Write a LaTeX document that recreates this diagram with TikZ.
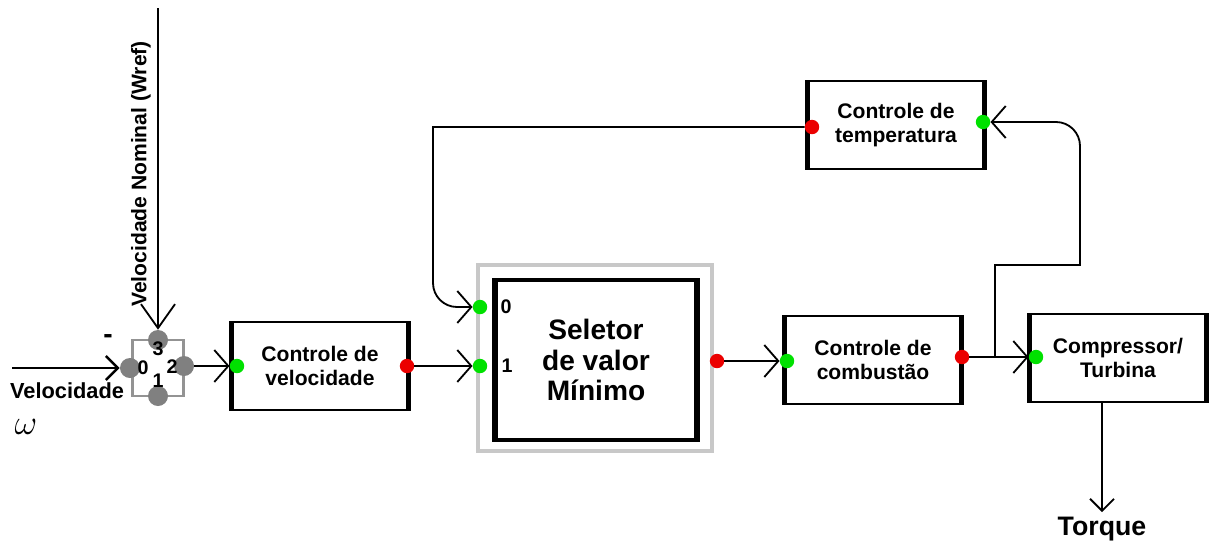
\documentclass[tikz,border=0pt]{standalone}
\usepackage{fontspec}
\setmainfont{Liberation Sans}
\usetikzlibrary{arrows.meta}

\definecolor{portgreen}{RGB}{0,225,0}
\definecolor{portred}{RGB}{235,0,0}
\definecolor{knobgray}{RGB}{128,128,128}
\definecolor{framegray}{RGB}{200,200,200}

\begin{document}
\begin{tikzpicture}[x=0.025cm, y=-0.025cm,
    block/.style={draw, line width=1.3pt, fill=white, minimum width=4.4cm, minimum height=2.2cm,
      align=center, font=\fontsize{15}{16.5}\selectfont\bfseries},
    port/.style={circle, fill=#1, inner sep=0pt, minimum size=3.6mm},
    knob/.style={circle, fill=knobgray, inner sep=0pt, minimum size=5mm},
    pinlabel/.style={font=\fontsize{14}{14}\selectfont\bfseries, inner sep=0pt},
    flow/.style={line width=1.3pt, -{Straight Barb[length=3.5mm, width=8mm, line width=1.3pt]}},
    ]
\useasboundingbox (0,0) rectangle (1209,547);

% summing junction
\node[draw=knobgray!85, line width=2pt, minimum width=1.275cm, minimum height=1.4cm] (sum) at (158,368) {};
\node[knob] (s0) at (130,368) {};
\node[knob] (s1) at (158,396) {};
\node[knob] (s2) at (184,366) {};
\node[knob] (s3) at (158,340) {};
\node[pinlabel] (n0) at (143,368) {0};
\node[pinlabel] (n1) at (158,381) {1};
\node[pinlabel] (n2) at (172,367) {2};
\node[pinlabel] (n3) at (158,349) {3};
\node[font=\fontsize{20}{20}\selectfont\bfseries] (minus) at (108,339) {-};

\coordinate (win) at (12,368);
\coordinate (wref) at (158,8);
\draw[line width=2pt, -{Straight Barb[length=3mm, width=6mm, line width=1.8pt]}] (win) -- (s0);
\draw[line width=1.3pt, -{Straight Barb[length=6mm, width=8.5mm, line width=1.3pt]}] (wref) -- (s3);
\node[font=\fontsize{15.5}{15.5}\selectfont\bfseries] (vel) at (67,391) {Velocidade};
\node[font=\fontsize{26}{26}\selectfont] (omega) at (26,427) {$\omega$};
\node[rotate=90, font=\fontsize{15}{15}\selectfont\bfseries] (wreflabel) at (141,174) {Velocidade Nominal (Wref)};

% blocks
\node[block] (vc) at (320,366) {Controle de\\velocidade};
\node[draw=framegray, line width=3pt, minimum width=5.85cm, minimum height=4.65cm] (selframe) at (595,358) {};
\node[block, line width=2.5pt, minimum width=5.0cm, minimum height=4cm,
  font=\fontsize{20}{22}\selectfont\bfseries] (sel) at (596,360) {Seletor\\de valor\\Mínimo};
\node[block] (cc) at (873,360) {Controle de\\combustão};
\node[block] (comp) at (1118,358) {Compressor/\\Turbina};
\node[block] (tc) at (896,125) {Controle de\\temperatura};

% thick side bars
\foreach \b in {vc, sel, cc, comp, tc}
  \draw[line width=3.5pt] (\b.north west) -- (\b.south west)
                          (\b.north east) -- (\b.south east);

% ports
\node[port=portgreen] (v_in) at (237,366) {};
\node[port=portred] (v_out) at (407,366) {};
\node[port=portgreen] (sel_a) at (480,307) {};
\node[port=portgreen] (sel_b) at (480,366) {};
\node[port=portred] (sel_out) at (717,361) {};
\node[port=portgreen] (c_in) at (787,361) {};
\node[port=portred] (c_out) at (962,357) {};
\node[port=portgreen] (p_in) at (1036,357) {};
\node[port=portred] (t_out) at (812,127) {};
\node[port=portgreen] (t_in) at (983,122) {};
\node[pinlabel] (l0) at (506,307) {0};
\node[pinlabel] (l1) at (507,366) {1};

% connections
\draw[flow] (s2) -- (v_in);
\draw[flow] (v_out) -- (sel_b);
\draw[flow] (sel_out) -- (c_in);
\draw[flow] (c_out) -- (p_in);

\coordinate (tap) at (995,357);
\coordinate (rr) at (1080,265);
\coordinate (fb) at (433,127);
\draw[flow] (tap) |- (rr) [rounded corners=6mm] |- (t_in);
\draw[flow] (t_out) -- (fb) [rounded corners=6mm] |- (sel_a);

\node[font=\fontsize{19}{19}\selectfont\bfseries] (torque) at (1102,529) {Torque};
\draw[line width=1.3pt, -{Straight Barb[length=3mm, width=6mm, line width=1.3pt]}] (comp.south -| torque) -- (torque);
\end{tikzpicture}
\end{document}
